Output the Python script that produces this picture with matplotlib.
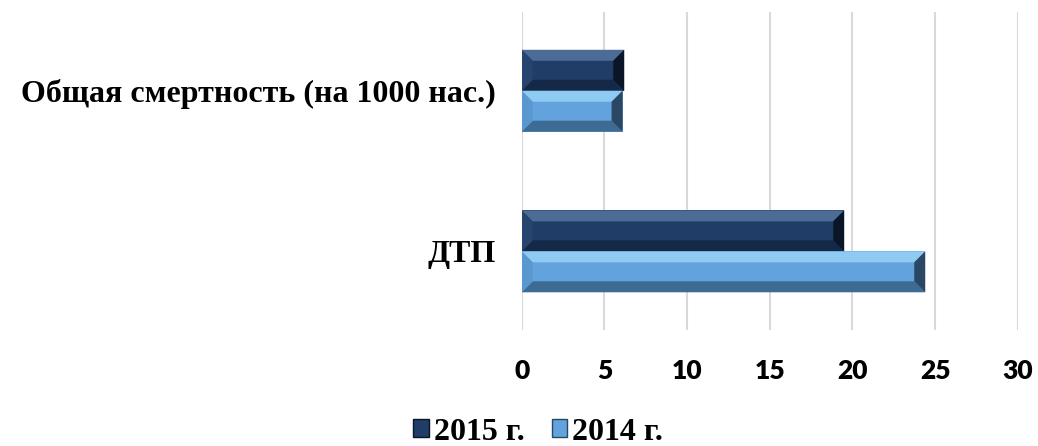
import matplotlib
matplotlib.use("Agg")
import matplotlib.pyplot as plt
import matplotlib.transforms as mtransforms
from matplotlib.patches import Polygon, Patch
import numpy as np

## Данные
categories = ["ДТП", "Общая смертность (на 1000 нас.)"]
years = ["2015 г.", "2014 г."]
values_2015 = [19.5, 6.2]
values_2014 = [24.4, 6.1]
x_ticks = [0, 5, 10, 15, 20, 25, 30]

## Цвета граней "объёмных" столбцов: центр, верх, низ, лево, право
dark_faces = ["#1f3d66", "#4c6c95", "#142947", "#26446d", "#0a1628"]
light_faces = ["#63a3dd", "#8fcaf2", "#3d6b94", "#5a97d0", "#2a4764"]

fig = plt.figure(figsize=(10.38, 4.46), dpi=100)
ax = fig.add_axes([0.5026, 0.260, 0.478, 0.713])

y = np.arange(len(categories))
h = 0.255
bars15 = ax.barh(y + h / 2, values_2015, height=h, color=dark_faces[0], zorder=2)
bars14 = ax.barh(y - h / 2, values_2014, height=h, color=light_faces[0], zorder=2)

ax.set_xlim(0, 30)
ax.set_ylim(-0.49, 1.49)
ax.set_xticks(x_ticks)
ax.set_yticks(y)
ax.set_yticklabels(categories, fontfamily="Liberation Serif", fontweight="bold", fontsize=23)
ax.tick_params(axis="y", length=0, pad=19)
ax.tick_params(axis="x", length=0, pad=21)
for lbl in ax.get_xticklabels():
    lbl.set_fontfamily("Lato")
    lbl.set_fontweight("heavy")
    lbl.set_fontsize(19)

ax.grid(axis="x", color="#d9d9d9", linewidth=1.5, zorder=0)
for s in ax.spines.values():
    s.set_visible(False)


## Функция рисует фаску (bevel) поверх столбца в пикселях
def bevel(bar, faces, b=11):
    ident = mtransforms.IdentityTransform()
    (x0, y0), (x1, y1) = ax.transData.transform(
        [(bar.get_x(), bar.get_y()), (bar.get_x() + bar.get_width(), bar.get_y() + bar.get_height())])
    bb = min(b, (y1 - y0) / 2 - 1, (x1 - x0) / 2 - 1)
    quads = [
        ([(x0, y1), (x1, y1), (x1 - bb, y1 - bb), (x0 + bb, y1 - bb)], faces[1]),
        ([(x0, y0), (x1, y0), (x1 - bb, y0 + bb), (x0 + bb, y0 + bb)], faces[2]),
        ([(x0, y0), (x0, y1), (x0 + bb, y1 - bb), (x0 + bb, y0 + bb)], faces[3]),
        ([(x1, y0), (x1, y1), (x1 - bb, y1 - bb), (x1 - bb, y0 + bb)], faces[4]),
    ]
    for pts, c in quads:
        ax.add_patch(Polygon(pts, closed=True, facecolor=c, edgecolor="none",
                             transform=ident, zorder=3))


for bar in bars15:
    bevel(bar, dark_faces)
for bar in bars14:
    bevel(bar, light_faces)

handles = [Patch(facecolor=dark_faces[0], edgecolor=dark_faces[4]),
           Patch(facecolor=light_faces[0], edgecolor=light_faces[4])]
fig.legend(handles, years, loc="center", bbox_to_anchor=(538 / 1038, 1 - 432 / 446),
           ncol=2, frameon=False, handlelength=0.48, handleheight=0.48,
           handletextpad=0.15, columnspacing=0.85,
           prop={"family": "Liberation Serif", "weight": "bold", "size": 23})

fig.savefig("out.png", dpi=100)
